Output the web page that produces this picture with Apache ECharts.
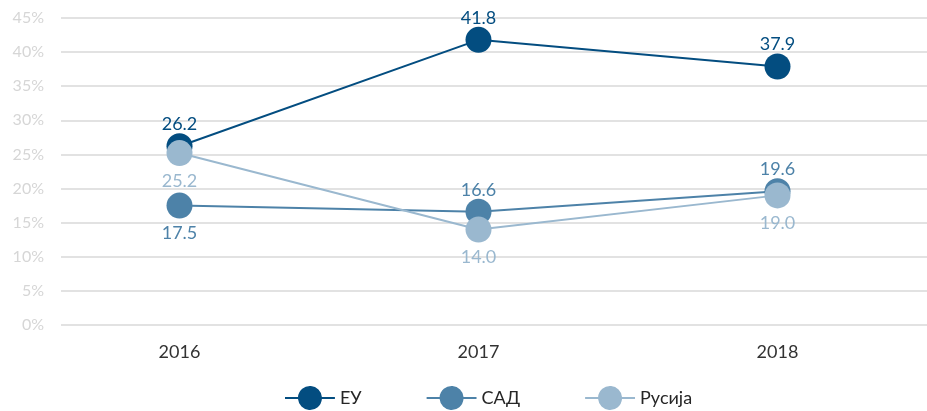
<!DOCTYPE html>
<html>
<head>
<meta charset="utf-8">
<script src="https://cdn.jsdelivr.net/npm/echarts@6/dist/echarts.min.js"></script>
<style>
html, body { margin: 0; padding: 0; background: #fff; }
#chart { width: 927px; height: 411px; }
</style>
</head>
<body>
<div id="chart"></div>
<script>
var years = ['2016', '2017', '2018'];
var seriesNames = ['ЕУ', 'САД', 'Русија'];
var euValues = [26.2, 41.8, 37.9];
var sadValues = [17.5, 16.6, 19.6];
var rusValues = [25.2, 14.0, 19.0];
var colors = ['#034d80', '#4d82a8', '#9ab8cf'];

var chart = echarts.init(document.getElementById('chart'));

// legend icon: line with a circle in the middle
var legendIcon = 'path://M0,11 L13.04,11 A12,12 0 0 1 36.96,11 L50,11 L50,13 L36.96,13 A12,12 0 0 1 13.04,13 L0,13 Z';

function makeSeries(name, values, color, positions) {
    return {
        name: name,
        type: 'line',
        xAxisIndex: 1,
        yAxisIndex: 1,
        data: values.map(function (v, i) {
            return { value: v, label: { position: positions[i] } };
        }),
        symbol: 'circle',
        symbolSize: 26,
        lineStyle: { color: color, width: 2 },
        itemStyle: { color: color },
        label: {
            show: true,
            color: color,
            fontSize: 18,
            fontFamily: 'Lato',
            distance: 3,
            offset: [0, 3],
            formatter: function (p) { return p.value.toFixed(1); }
        },
        emphasis: { disabled: true }
    };
}

var option = {
    animation: false,
    textStyle: { fontFamily: 'Lato' },
    grid: [
        { left: 61, right: 0, top: 18, bottom: 86 },
        { left: 30, right: -2, top: 18, bottom: 86 }
    ],
    legend: {
        bottom: -4,
        left: 280,
        icon: legendIcon,
        itemWidth: 50,
        itemHeight: 24,
        itemGap: 65,
        textStyle: { color: '#262626', fontSize: 18, fontFamily: 'Lato' },
        data: seriesNames
    },
    xAxis: [
        { type: 'category', gridIndex: 0, data: years, show: false },
        {
            type: 'category',
            gridIndex: 1,
            data: years,
            boundaryGap: true,
            axisLine: { show: false },
            axisTick: { show: false },
            axisLabel: { color: '#333333', fontSize: 18, margin: 18 }
        }
    ],
    yAxis: [
        {
            type: 'value',
            gridIndex: 0,
            min: 0,
            max: 45,
            interval: 5,
            axisLine: { show: false },
            axisTick: { show: false },
            axisLabel: { color: '#d6d6d6', fontSize: 16, margin: 17, formatter: '{value}%' },
            splitLine: { lineStyle: { color: '#d9d9d9', width: 1.5 } }
        },
        { type: 'value', gridIndex: 1, min: 0, max: 45, interval: 5, show: false }
    ],
    series: [
        makeSeries(seriesNames[0], euValues, colors[0], ['top', 'top', 'top']),
        makeSeries(seriesNames[1], sadValues, colors[1], ['bottom', 'top', 'top']),
        makeSeries(seriesNames[2], rusValues, colors[2], ['bottom', 'bottom', 'bottom'])
    ]
};

chart.setOption(option);
</script>
</body>
</html>
